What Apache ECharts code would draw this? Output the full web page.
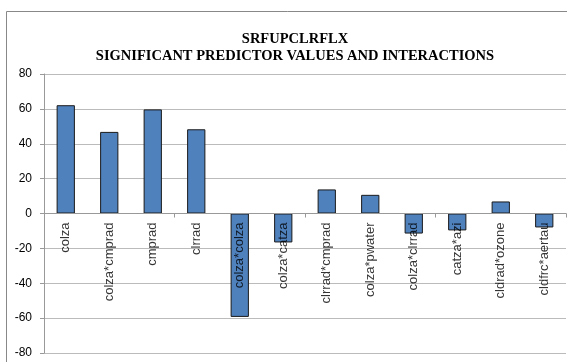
<!DOCTYPE html>
<html><head><meta charset="utf-8">
<script src="https://cdn.jsdelivr.net/npm/echarts@6/dist/echarts.min.js"></script>
<style>html,body{margin:0;padding:0;background:#fff}#c{width:567px;height:362px}</style>
</head><body><div id="c"></div>
<script>
const categories = ["colza","colza*cmprad","cmprad","clrrad","colza*colza","colza*catza","clrrad*cmprad","colza*pwater","colza*clrrad","catza*azi","cldrad*ozone","cldfrc*aertau"];
const values = [62.1, 46.8, 59.7, 48.3, -59.3, -16.6, 13.8, 10.7, -11.5, -9.7, 6.9, -8.0];
const titleLines = ["SRFUPCLRFLX", "SIGNIFICANT PREDICTOR VALUES AND INTERACTIONS"];
const chart = echarts.init(document.getElementById('c'));
chart.setOption({
  animation: false,
  graphic: [{type:'rect', shape:{x:6.5,y:11.5,width:580,height:400}, style:{fill:'none', stroke:'#888', lineWidth:1}, z:-1}],
  title: {
    text: titleLines.join('\n'), left: 290, top: 26, textAlign: 'center',
    textStyle: {fontFamily:'Liberation Serif', fontWeight:'bold', fontSize:14.5, color:'#000', lineHeight:17}
  },
  grid: {left: 44, right: 1, top: 74, bottom: 9, containLabel: false, outerBoundsMode: 'none'},
  xAxis: {
    type: 'category', data: categories,
    axisLine: {onZero: true, lineStyle: {color: '#999'}},
    axisTick: {show: true, length: 4, inside: false, lineStyle:{color:'#999'}},
    axisLabel: {show: false},
    z: 10
  },
  yAxis: {
    type: 'value', min: -80, max: 80, interval: 20,
    axisLine: {show: true, lineStyle: {color: '#999'}},
    axisTick: {show: true, length: 4, lineStyle:{color:'#999'}},
    axisLabel: {fontFamily: 'Liberation Sans', fontSize: 12, color: '#000', margin: 12},
    splitLine: {lineStyle: {color: '#bbb', width: 1}}
  },
  series: [{
    type: 'bar', data: values, barWidth: '42%',
    itemStyle: {color: '#4F81BD', borderColor: '#1a1a1a', borderWidth: 1},
    z: 2
  }, {
    type: 'scatter', data: categories.map(c => [c, 0]), symbolSize: 0, silent: true, z: 20,
    label: {
      show: true, position: 'bottom', distance: 9, rotate: 90, align: 'right', verticalAlign: 'middle',
      formatter: p => p.name, fontFamily: 'Liberation Sans', fontSize: 13, color: '#000'
    }
  }]
});
</script></body></html>
